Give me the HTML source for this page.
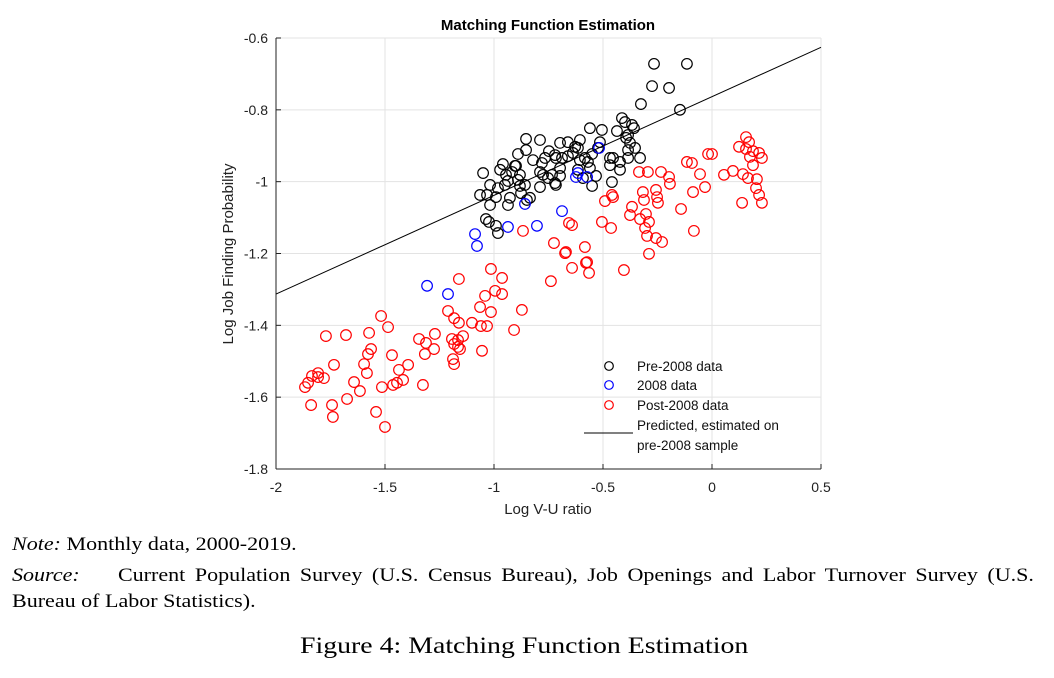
<!DOCTYPE html>
<html><head><meta charset="utf-8"><style>
body{margin:0;width:1054px;height:678px;background:#fff;overflow:hidden;position:relative}
.t{position:absolute;font-family:"Liberation Serif",serif;color:#000;white-space:nowrap}
</style></head><body>
<svg id="chart" width="1054" height="520" style="position:absolute;left:0;top:0" font-family="Liberation Sans, sans-serif"></svg>
<div class="t" style="left:12px;top:534px;font-size:19px;transform:scaleX(1.16);transform-origin:0 0"><i>Note:</i> Monthly data, 2000-2019.</div>
<div class="t" style="left:12px;top:565px;width:881px;font-size:19px;white-space:normal;text-align:justify;text-align-last:justify;transform:scaleX(1.16);transform-origin:0 0"><i>Source:</i>&nbsp;&nbsp;&nbsp; Current Population Survey (U.S. Census Bureau), Job Openings and Labor Turnover Survey (U.S.</div>
<div class="t" style="left:12px;top:591px;font-size:19px;transform:scaleX(1.16);transform-origin:0 0">Bureau of Labor Statistics).</div>
<div class="t" style="left:300px;top:633px;font-size:23px;transform:scaleX(1.21);transform-origin:0 0">Figure 4: Matching Function Estimation</div>
<script>
const xTicks=[-2,-1.5,-1,-0.5,0,0.5];
const yTicks=[-0.6,-0.8,-1,-1.2,-1.4,-1.6,-1.8];
const xTickLabels=["-2","-1.5","-1","-0.5","0","0.5"];
const yTickLabels=["-0.6","-0.8","-1","-1.2","-1.4","-1.6","-1.8"];
const preX=[-0.266,-0.115,-0.275,-0.197,-0.147,-0.326,-0.358,-0.413,-0.385,-0.436,-0.385,-0.454,-0.422,-0.514,-0.550,-0.583,-0.523,-0.615,-0.638,-0.697,-0.789,-0.748,-0.688,-0.615,-0.569,-0.468,-0.422,-0.385,-0.353,-0.330,-0.459,-0.550,-0.505,-0.560,-0.606,-0.661,-0.720,-0.780,-0.821,-0.853,-0.890,-0.904,-0.917,-0.853,-0.881,-0.936,-0.950,-0.982,-1.018,-1.032,-1.064,-0.991,-0.927,-0.876,-0.858,-0.835,-0.936,-1.018,-1.037,-1.023,-0.991,-0.982,-1.050,-0.734,-0.752,-0.716,-0.697,-0.789,-0.720,-0.775,-0.959,-0.899,-0.890,-0.881,-0.789,-0.766,-0.697,-0.628,-0.606,-0.376,-0.560,-0.468,-0.394,-0.367,-0.399,-0.532,-0.592,-0.661,-0.716,-0.972,-0.945,-0.849];
const preY=[-0.672,-0.672,-0.734,-0.739,-0.800,-0.784,-0.851,-0.823,-0.870,-0.859,-0.912,-0.934,-0.945,-0.890,-0.923,-0.934,-0.906,-0.906,-0.920,-0.892,-0.884,-0.915,-0.934,-0.967,-0.945,-0.954,-0.967,-0.934,-0.906,-0.934,-1.001,-1.012,-0.856,-0.851,-0.884,-0.929,-0.926,-0.948,-0.940,-0.912,-0.923,-0.956,-0.973,-0.881,-0.981,-0.998,-1.009,-1.018,-1.009,-1.037,-1.037,-1.043,-1.045,-1.032,-1.009,-1.045,-1.065,-1.065,-1.104,-1.112,-1.123,-1.143,-0.976,-0.981,-0.990,-1.009,-0.984,-1.015,-1.004,-0.981,-0.951,-0.956,-0.995,-1.012,-0.973,-0.934,-0.962,-0.903,-0.940,-0.892,-0.962,-0.934,-0.878,-0.842,-0.834,-0.984,-0.990,-0.890,-0.934,-0.967,-0.981,-1.051];
const y08X=[-0.518,-0.624,-0.615,-0.573,-0.858,-0.688,-0.803,-0.936,-1.087,-1.078,-1.307,-1.211];
const y08Y=[-0.906,-0.987,-0.976,-0.987,-1.062,-1.082,-1.123,-1.126,-1.146,-1.179,-1.290,-1.313];
const postX=[-0.725,-0.674,-0.583,-0.578,-0.642,-0.564,-0.739,-1.014,-0.963,-1.161,-0.995,-0.963,-1.041,-1.064,-1.014,-1.211,-1.183,-1.161,-1.101,-1.060,-1.032,-0.872,-0.908,-1.518,-1.486,-1.771,-1.679,-1.573,-1.564,-1.578,-1.468,-1.596,-1.583,-1.734,-1.344,-1.312,-1.271,-1.275,-1.317,-1.193,-1.165,-1.183,-1.165,-1.156,-1.142,-1.055,-1.188,-1.183,-1.394,-1.436,-1.417,-1.445,-1.463,-1.514,-1.326,-1.642,-1.615,-1.674,-1.807,-1.835,-1.807,-1.780,-1.853,-1.867,-1.839,-1.743,-1.739,-1.541,-1.500,0.156,0.170,0.124,0.156,0.188,0.216,0.174,0.229,0.188,0.165,0.206,0.202,0.216,0.229,0.138,0.055,0.096,0.142,-0.018,0,-0.115,-0.092,-0.055,-0.032,-0.087,-0.142,-0.083,-0.234,-0.197,-0.193,-0.294,-0.335,-0.317,-0.312,-0.257,-0.252,-0.248,-0.367,-0.376,-0.330,-0.289,-0.303,-0.307,-0.298,-0.257,-0.229,-0.289,-0.459,-0.491,-0.454,-0.505,-0.463,-0.656,-0.642,-0.670,-0.573,-0.404,-0.867];
const postY=[-1.171,-1.199,-1.182,-1.226,-1.240,-1.254,-1.277,-1.243,-1.268,-1.271,-1.304,-1.313,-1.318,-1.349,-1.363,-1.360,-1.380,-1.393,-1.393,-1.402,-1.402,-1.357,-1.413,-1.374,-1.405,-1.430,-1.427,-1.421,-1.466,-1.480,-1.483,-1.508,-1.533,-1.510,-1.438,-1.449,-1.424,-1.466,-1.480,-1.438,-1.441,-1.452,-1.460,-1.466,-1.430,-1.471,-1.494,-1.508,-1.510,-1.524,-1.552,-1.560,-1.566,-1.572,-1.566,-1.558,-1.583,-1.605,-1.533,-1.541,-1.544,-1.547,-1.560,-1.572,-1.622,-1.622,-1.655,-1.641,-1.683,-0.876,-0.890,-0.903,-0.909,-0.915,-0.920,-0.931,-0.934,-0.954,-0.990,-0.993,-1.018,-1.037,-1.059,-1.059,-0.981,-0.970,-0.979,-0.923,-0.923,-0.945,-0.948,-0.979,-1.015,-1.029,-1.076,-1.137,-0.973,-0.987,-1.006,-0.973,-0.973,-1.029,-1.051,-1.023,-1.043,-1.059,-1.070,-1.093,-1.104,-1.112,-1.090,-1.129,-1.151,-1.157,-1.168,-1.201,-1.037,-1.054,-1.043,-1.112,-1.129,-1.115,-1.121,-1.196,-1.224,-1.246,-1.137];
const fitLine=[[-2,-1.313],[0.5,-0.626]];

const L=276,R=821,T=38,B=469;
const sx=v=>L+(v+2)/2.5*(R-L);
const sy=v=>T+(-0.6-v)/1.2*(B-T);
const svg=document.getElementById('chart');
const NS='http://www.w3.org/2000/svg';
function mk(tag,attrs,parent){const e=document.createElementNS(NS,tag);for(const k in attrs)e.setAttribute(k,attrs[k]);(parent||svg).appendChild(e);return e;}
const grid=mk('g',{});


xTicks.forEach((v,i)=>{
  const g=mk('line',{x1:sx(v),x2:sx(v),y1:T,y2:B,stroke:'#e3e3e3','stroke-width':1},grid);
  
  
  const t=mk('line',{x1:sx(v),x2:sx(v),y1:B,y2:B-5,stroke:'#222'});
  
  
  const l=mk('text',{x:sx(v),y:B+23,'text-anchor':'middle','font-size':14,fill:'#222'});
  l.textContent=xTickLabels[i];
  
  
});
yTicks.forEach((v,i)=>{
  const g=mk('line',{x1:L,x2:R,y1:sy(v),y2:sy(v),stroke:'#e3e3e3','stroke-width':1},grid);
  
  
  const t=mk('line',{x1:L,x2:L+5,y1:sy(v),y2:sy(v),stroke:'#222'});
  
  
  const l=mk('text',{x:L-8,y:sy(v)+5,'text-anchor':'end','font-size':14,fill:'#222'});
  l.textContent=yTickLabels[i];
  
  
});
const xa=mk('line',{x1:L,x2:R,y1:B,y2:B,stroke:'#222'});


const ya=mk('line',{x1:L,x2:L,y1:T,y2:B,stroke:'#222'});


function series(xs,ys,color,name){
  const g=mk('g',{});
  
  
  xs.forEach((x,i)=>{
    const c=mk('circle',{cx:sx(x),cy:sy(ys[i]),r:5.3,fill:'none',stroke:color,'stroke-width':1.2},g);
    
    
  });
}
series(postX,postY,'#ff0000','post-2008-series');
series(preX,preY,'#000','pre-2008-series');
series(y08X,y08Y,'#0000ff','2008-series');
const fl=mk('line',{x1:sx(fitLine[0][0]),y1:sy(fitLine[0][1]),x2:sx(fitLine[1][0]),y2:sy(fitLine[1][1]),stroke:'#000','stroke-width':1});


const title=mk('text',{x:548,y:30,'text-anchor':'middle','font-size':15,'font-weight':'bold'});
title.textContent='Matching Function Estimation';


const xt=mk('text',{x:548,y:514,'text-anchor':'middle','font-size':15,fill:'#222'});
xt.textContent='Log V-U ratio';


const yt=mk('text',{x:0,y:0,'text-anchor':'middle','font-size':15,fill:'#222',transform:'translate(233,254) rotate(-90)'});
yt.textContent='Log Job Finding Probability';


const leg=mk('g',{});


const legItems=[['Pre-2008 data','#000',366],['2008 data','#0000ff',385],['Post-2008 data','#ff0000',405]];
legItems.forEach(it=>{
  const c=mk('circle',{cx:609,cy:it[2],r:4.3,fill:'none',stroke:it[1],'stroke-width':1.2},leg);
  
  
  const t=mk('text',{x:637,y:it[2]+5,'font-size':13.5,fill:'#111'},leg);
  t.textContent=it[0];
  
  
});
const ll=mk('line',{x1:584,x2:633,y1:433,y2:433,stroke:'#000'},leg);


const lt1=mk('text',{x:637,y:430,'font-size':13.5,fill:'#111'},leg);
lt1.textContent='Predicted, estimated on';


const lt2=mk('text',{x:637,y:450,'font-size':13.5,fill:'#111'},leg);
lt2.textContent='pre-2008 sample';


</script>
</body></html>
